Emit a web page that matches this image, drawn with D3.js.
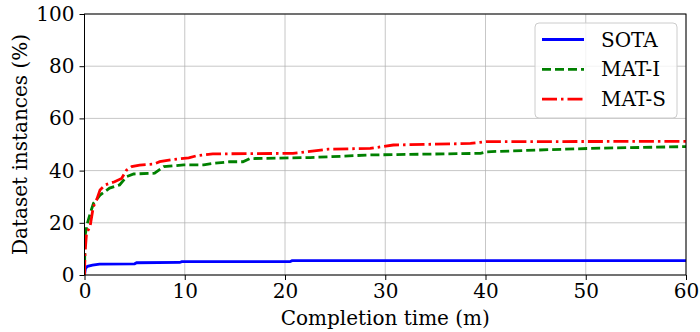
<!DOCTYPE html>
<html>
<head>
<meta charset="utf-8">
<script src="https://cdn.jsdelivr.net/npm/d3@7"></script>
<style>
  body { margin: 0; background: #fff; }
</style>
</head>
<body>
<div id="chart"></div>
<script>
// data (x = minutes, y = percent)
const sotaX = [0, 0.1, 0.3, 0.8, 1.5, 5.0, 5.2, 9.5, 9.7, 20.5, 20.7, 60];
const sotaY = [0, 2.6, 3.3, 3.8, 4.2, 4.3, 4.7, 4.8, 5.1, 5.1, 5.5, 5.5];

const matIX = [0, 0.05, 0.3, 0.6, 0.9, 1.55, 2.5, 3.5, 4.2, 4.9, 7.0, 7.9, 9.9, 11.9, 12.9, 14.5, 15.8, 16.5, 22.5, 24.5, 28.5, 39.5, 40.1, 45.4, 50.4, 60];
const matIY = [0, 15, 20, 24, 27.5, 30.6, 33.3, 34.5, 37.7, 38.7, 39, 41.5, 42.2, 42.2, 42.8, 43.4, 43.4, 44.6, 45, 45.3, 46, 46.6, 47.2, 47.9, 48.5, 49.2];

const matSX = [0, 0.05, 0.2, 0.55, 0.88, 1.2, 1.55, 2.05, 3.0, 3.7, 4.2, 4.7, 5.5, 6.9, 7.5, 8.9, 10.4, 11.2, 12.8, 20.8, 22.2, 24.3, 28.5, 30.8, 38.5, 40.1, 60];
const matSY = [0, 8.3, 16, 18.5, 26.2, 28.7, 32.6, 34.5, 35.7, 37, 40.2, 41.5, 42.1, 42.5, 43.4, 44.3, 44.9, 45.7, 46.4, 46.6, 47.2, 48.2, 48.5, 49.8, 50.4, 51.1, 51.2];

const seriesNames = ["SOTA", "MAT-I", "MAT-S"];
const xTicks = [0, 10, 20, 30, 40, 50, 60];
const yTicks = [0, 20, 40, 60, 80, 100];

const W = 700, H = 332;
const m = { left: 84.5, right: 14, top: 14, bottom: 57 };
const FONT = "'DejaVu Serif', 'Liberation Serif', serif";
const FS = 20;

const svg = d3.select("#chart").append("svg")
    .attr("width", W).attr("height", H)
    .attr("font-family", FONT);

const x = d3.scaleLinear().domain([0, 60]).range([m.left, W - m.right]);
const y = d3.scaleLinear().domain([0, 100]).range([H - m.bottom, m.top]);

// grid
svg.append("g").selectAll("line").data(xTicks).join("line")
    .attr("x1", d => x(d)).attr("x2", d => x(d))
    .attr("y1", y(0)).attr("y2", y(100))
    .attr("stroke", "#b0b0b0").attr("stroke-width", 1).attr("opacity", 0.7);
svg.append("g").selectAll("line").data(yTicks).join("line")
    .attr("x1", x(0)).attr("x2", x(60))
    .attr("y1", d => y(d)).attr("y2", d => y(d))
    .attr("stroke", "#b0b0b0").attr("stroke-width", 1).attr("opacity", 0.7);

// axes
const xAxis = svg.append("g")
    .attr("transform", `translate(0,${y(0)})`)
    .call(d3.axisBottom(x).tickValues(xTicks).tickSize(5).tickPadding(4));
const yAxis = svg.append("g")
    .attr("transform", `translate(${x(0)},0)`)
    .call(d3.axisLeft(y).tickValues(yTicks).tickSize(5).tickPadding(5));
[xAxis, yAxis].forEach(a => {
    a.attr("font-family", FONT).attr("font-size", FS);
    a.select(".domain").remove();
    a.selectAll("line").attr("stroke", "#000").attr("stroke-width", 1);
    a.selectAll("text").attr("fill", "#000");
});

// lines
const line = d3.line().x(d => x(d[0])).y(d => y(d[1]));
const series = [
    { pts: d3.zip(sotaX, sotaY), color: "#0000ff", dash: null },
    { pts: d3.zip(matIX, matIY), color: "#008000", dash: "9,4" },
    { pts: d3.zip(matSX, matSY), color: "#ff0000", dash: "15,4,2.5,4" }
];
svg.append("defs").append("clipPath").attr("id", "clip")
  .append("rect").attr("x", x(0)).attr("y", y(100))
    .attr("width", x(60) - x(0)).attr("height", y(0) - y(100));
const lines = svg.append("g").attr("clip-path", "url(#clip)");
series.forEach(s => {
    lines.append("path")
        .attr("d", line(s.pts))
        .attr("fill", "none")
        .attr("stroke", s.color)
        .attr("stroke-width", 2.8)
        .attr("stroke-dasharray", s.dash);
});

// frame
svg.append("rect")
    .attr("x", x(0)).attr("y", y(100))
    .attr("width", x(60) - x(0)).attr("height", y(0) - y(100))
    .attr("fill", "none").attr("stroke", "#000").attr("stroke-width", 1);

// axis labels
svg.append("text")
    .attr("x", (x(0) + x(60)) / 2).attr("y", 325)
    .attr("text-anchor", "middle").attr("font-size", FS)
    .text("Completion time (m)");
svg.append("text")
    .attr("transform", `translate(27,${(y(0) + y(100)) / 2}) rotate(-90)`)
    .attr("text-anchor", "middle").attr("font-size", FS)
    .text("Dataset instances (%)");

// legend
const lg = svg.append("g").attr("transform", "translate(535,23)");
lg.append("rect")
    .attr("width", 142).attr("height", 95).attr("rx", 4)
    .attr("fill", "#fff").attr("fill-opacity", 0.8)
    .attr("stroke", "#cccccc").attr("stroke-width", 1);
seriesNames.forEach((name, i) => {
    const yy = 16.5 + i * 29.8;
    lg.append("line")
        .attr("x1", 7).attr("x2", 49).attr("y1", yy).attr("y2", yy)
        .attr("stroke", series[i].color).attr("stroke-width", 2.8)
        .attr("stroke-dasharray", series[i].dash);
    lg.append("text")
        .attr("x", 66).attr("y", yy + 7)
        .attr("font-size", FS)
        .text(name);
});
</script>
</body>
</html>
